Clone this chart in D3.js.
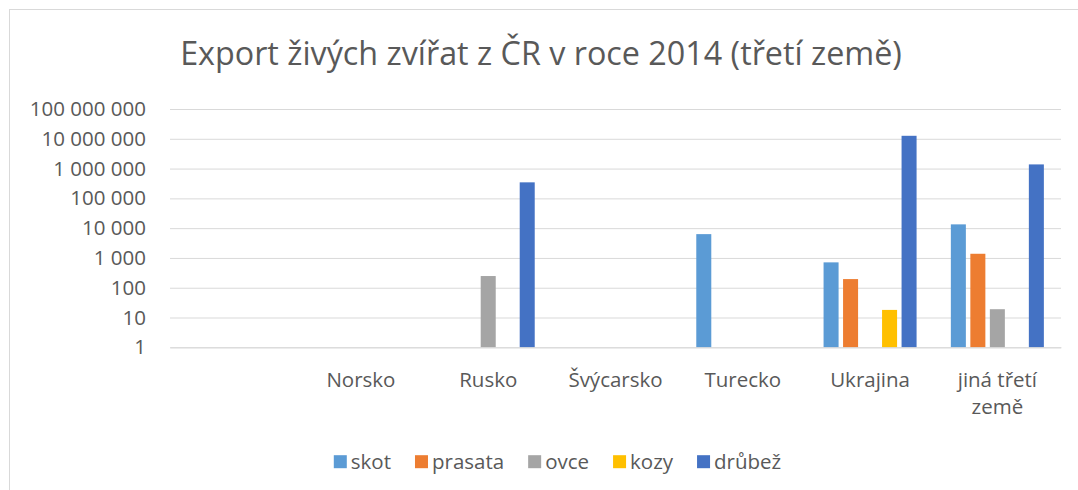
<!DOCTYPE html>
<html>
<head>
<meta charset="utf-8">
<script src="https://cdn.jsdelivr.net/npm/d3@7"></script>
<style>
  body { margin: 0; background: #fff; }
  text { font-family: "Open Sans", sans-serif; fill: #595959; }
</style>
</head>
<body>
<div id="chart"></div>
<script>
// data (log scale, so values are estimates)
const categories = ["", "Norsko", "Rusko", "Švýcarsko", "Turecko", "Ukrajina", "jiná třetí země"];
const seriesNames = ["skot", "prasata", "ovce", "kozy", "drůbež"];
const skot    = [null, null, null,   null, 6300, 710,      13400];
const prasata = [null, null, null,   null, null, 195,      1380];
const ovce    = [null, null, 247,    null, null, null,     19];
const kozy    = [null, null, null,   null, null, 18,       null];
const drubez  = [null, null, 345000, null, null, 12600000, 1380000];
const tickValues = [1, 10, 100, 1000, 10000, 100000, 1000000, 10000000, 100000000];

const seriesValues = [skot, prasata, ovce, kozy, drubez];
const colors = ["#5B9BD5", "#ED7D31", "#A5A5A5", "#FFC000", "#4472C4"];

const width = 1078, height = 490;
const plot = {left: 170, right: 1061, top: 109, bottom: 347.3};

const svg = d3.select("#chart")
  .append("svg")
  .attr("width", width)
  .attr("height", height);

// chart area border (runs off right and bottom edge like the screenshot)
svg.append("rect")
  .attr("x", 9.5).attr("y", 9.5)
  .attr("width", 1200).attr("height", 700)
  .attr("fill", "none")
  .attr("stroke", "#d9d9d9");

// title
svg.append("text")
  .attr("x", 541).attr("y", 65)
  .attr("text-anchor", "middle")
  .attr("font-size", 32.3)
  .text("Export živých zvířat z ČR v roce 2014 (třetí země)");

// scales
const x = d3.scaleBand()
  .domain(categories)
  .range([plot.left, plot.right]);

const xInner = d3.scaleBand()
  .domain(seriesNames)
  .range([-48.75, 48.75])
  .paddingInner(0.23)
  .paddingOuter(0.115);

const y = d3.scaleLog()
  .domain([1, 1e8])
  .range([plot.bottom, plot.top]);

const locale = d3.formatLocale({decimal: ",", thousands: " ", grouping: [3], currency: ["", ""]});
const fmt = locale.format(",d");

// gridlines + y labels
const yAxis = svg.append("g")
  .attr("transform", `translate(${plot.left},0)`)
  .call(d3.axisLeft(y)
    .tickValues(tickValues)
    .tickFormat(fmt)
    .tickSize(-(plot.right - plot.left))
    .tickPadding(24));
yAxis.select(".domain").remove();
yAxis.selectAll(".tick line").attr("stroke", "#d9d9d9");
yAxis.selectAll(".tick text")
  .attr("font-size", 20.5)
  .attr("font-family", "Open Sans, sans-serif")
  .attr("fill", "#595959");

// bars
seriesNames.forEach(function(name, si) {
  const rows = categories.map((c, i) => ({cat: c, v: seriesValues[si][i]}))
    .filter(d => d.v != null);
  svg.append("g")
    .selectAll("rect")
    .data(rows)
    .enter().append("rect")
      .attr("x", d => x(d.cat) + x.bandwidth() / 2 + xInner(name))
      .attr("width", xInner.bandwidth())
      .attr("y", d => y(d.v))
      .attr("height", d => y(1) - y(d.v))
      .attr("fill", colors[si]);
});

// x axis labels (no ticks, wrapped)
const xAxis = svg.append("g")
  .attr("transform", `translate(0,${plot.bottom})`)
  .call(d3.axisBottom(x).tickSize(0).tickPadding(0));
xAxis.select(".domain").attr("stroke", "#d9d9d9");
xAxis.selectAll(".tick text")
  .attr("font-size", 20.5)
  .attr("font-family", "Open Sans, sans-serif")
  .attr("fill", "#595959")
  .attr("y", 39.5)
  .attr("dy", 0)
  .each(function() { wrap(d3.select(this), 112); });

function wrap(text, maxWidth) {
  const words = text.text().split(" ");
  text.text(null);
  let line = [];
  let tspan = text.append("tspan").attr("x", 0).attr("dy", 0);
  words.forEach(function(w) {
    line.push(w);
    tspan.text(line.join(" "));
    if (tspan.node().getComputedTextLength() > maxWidth && line.length > 1) {
      line.pop();
      tspan.text(line.join(" "));
      line = [w];
      tspan = text.append("tspan").attr("x", 0).attr("dy", 27).text(w);
    }
  });
}

// legend
const legend = svg.append("g");
const gap = 24;
let lx = 0;
seriesNames.forEach(function(name, i) {
  const item = legend.append("g").attr("transform", `translate(${lx},0)`);
  item.append("rect")
    .attr("x", 0).attr("y", -6.5)
    .attr("width", 13).attr("height", 13)
    .attr("fill", colors[i]);
  const t = item.append("text")
    .attr("x", 17).attr("y", 7)
    .attr("font-size", 20.5)
    .text(name);
  lx += 17 + t.node().getComputedTextLength() + gap;
});
lx -= gap;
legend.attr("transform", `translate(${557.5 - lx / 2},461.7)`);
</script>
</body>
</html>
